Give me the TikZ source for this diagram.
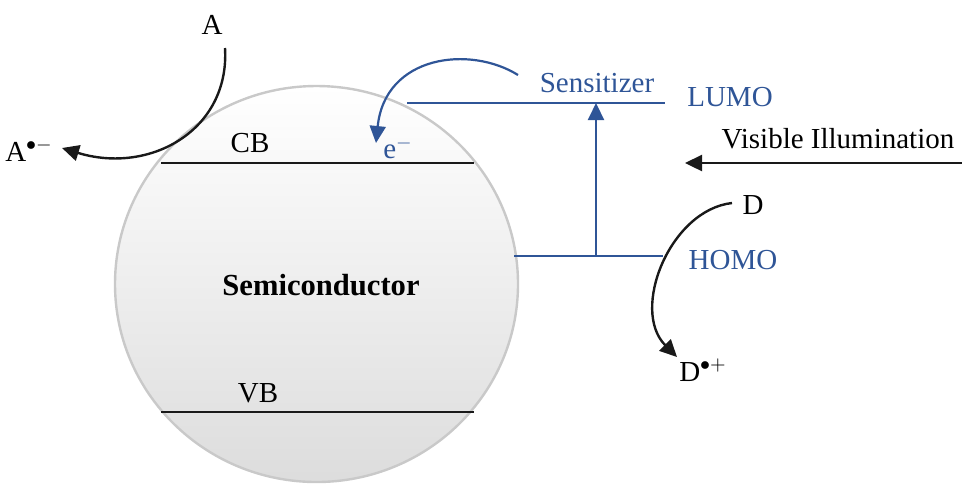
\documentclass[tikz,border=0pt]{standalone}
\usepackage{fontspec}
\setmainfont{Liberation Serif}
\usetikzlibrary{arrows.meta}
\definecolor{nblue}{RGB}{47,85,151}
\begin{document}
\begin{tikzpicture}[x=0.5pt,y=-0.5pt,
  lbl/.style={font=\fontsize{14.5}{17}\selectfont, inner sep=0pt},
  bluelbl/.style={lbl, text=nblue},
  semilbl/.style={font=\bfseries\fontsize{15.3}{18}\selectfont, inner sep=0pt},
  band/.style={line width=1.2pt, black!90},
  bline/.style={line width=1.1pt, nblue},
  tip/.style={-{Triangle[length=8.5pt,width=8pt]}},
  ]
\useasboundingbox (0,0) rectangle (962,484);
\shade[top color=white, bottom color=gray!27, draw=gray!42, line width=1.2pt]
  (316.5,284) ellipse [x radius=201.5, y radius=198];

% labels
\node[lbl] (cb) at (250,143) {CB};
\node[lbl] (vb) at (258,393) {VB};
\node[semilbl] (semi) at (321,285) {Semiconductor};
\node[bluelbl] (elec) at (398,148) {e$^{-}$};
\node[bluelbl] (sens) at (597,83) {Sensitizer};
\node[bluelbl] (lumo) at (730,97) {LUMO};
\node[bluelbl] (homo) at (733,260) {HOMO};
\node[lbl] (vis) at (838,139) {Visible Illumination};
\node[lbl] (d) at (753,205) {D};
\node[lbl] (dp) at (703,370) {D$^{\bullet+}$};
\node[lbl] (a) at (212,25) {A};
\node[lbl] (am) at (29,150) {A$^{\bullet-}$};

% bands
\coordinate (cbL) at (161,163);
\coordinate (cbR) at (474,163);
\coordinate (vbL) at (161,412);
\coordinate (vbR) at (474,412);
\draw[band] (cbL) -- (cbR);
\draw[band] (vbL) -- (vbR);

% sensitizer levels
\coordinate (lumoL) at (407,103);
\coordinate (lumoR) at (665,103);
\coordinate (homoL) at (514,256);
\coordinate (homoR) at (663,256);
\coordinate (excB) at (596,256);
\coordinate (excT) at (596,103);
\draw[bline] (lumoL) -- (lumoR);
\draw[bline] (homoL) -- (homoR);
\draw[bline,tip] (excB) -- (excT);

% electron injection
\coordinate (injS) at (518,75);
\coordinate (injE) at (376,143);
\draw[bline,tip] (injS) .. controls (470,45) and (385,55) .. (injE);

% light
\coordinate (lightS) at (962,163);
\coordinate (lightE) at (685,163);
\draw[band,tip] (lightS) -- (lightE);

% acceptor
\coordinate (aS) at (225,48);
\coordinate (aE) at (62,148);
\draw[band,tip] (aS) .. controls (230,130) and (150,175) .. (aE);

% donor
\coordinate (dS) at (732,203);
\coordinate (dE) at (677,357);
\draw[band,tip] (dS) .. controls (670,210) and (630,310) .. (dE);
\end{tikzpicture}
\end{document}
